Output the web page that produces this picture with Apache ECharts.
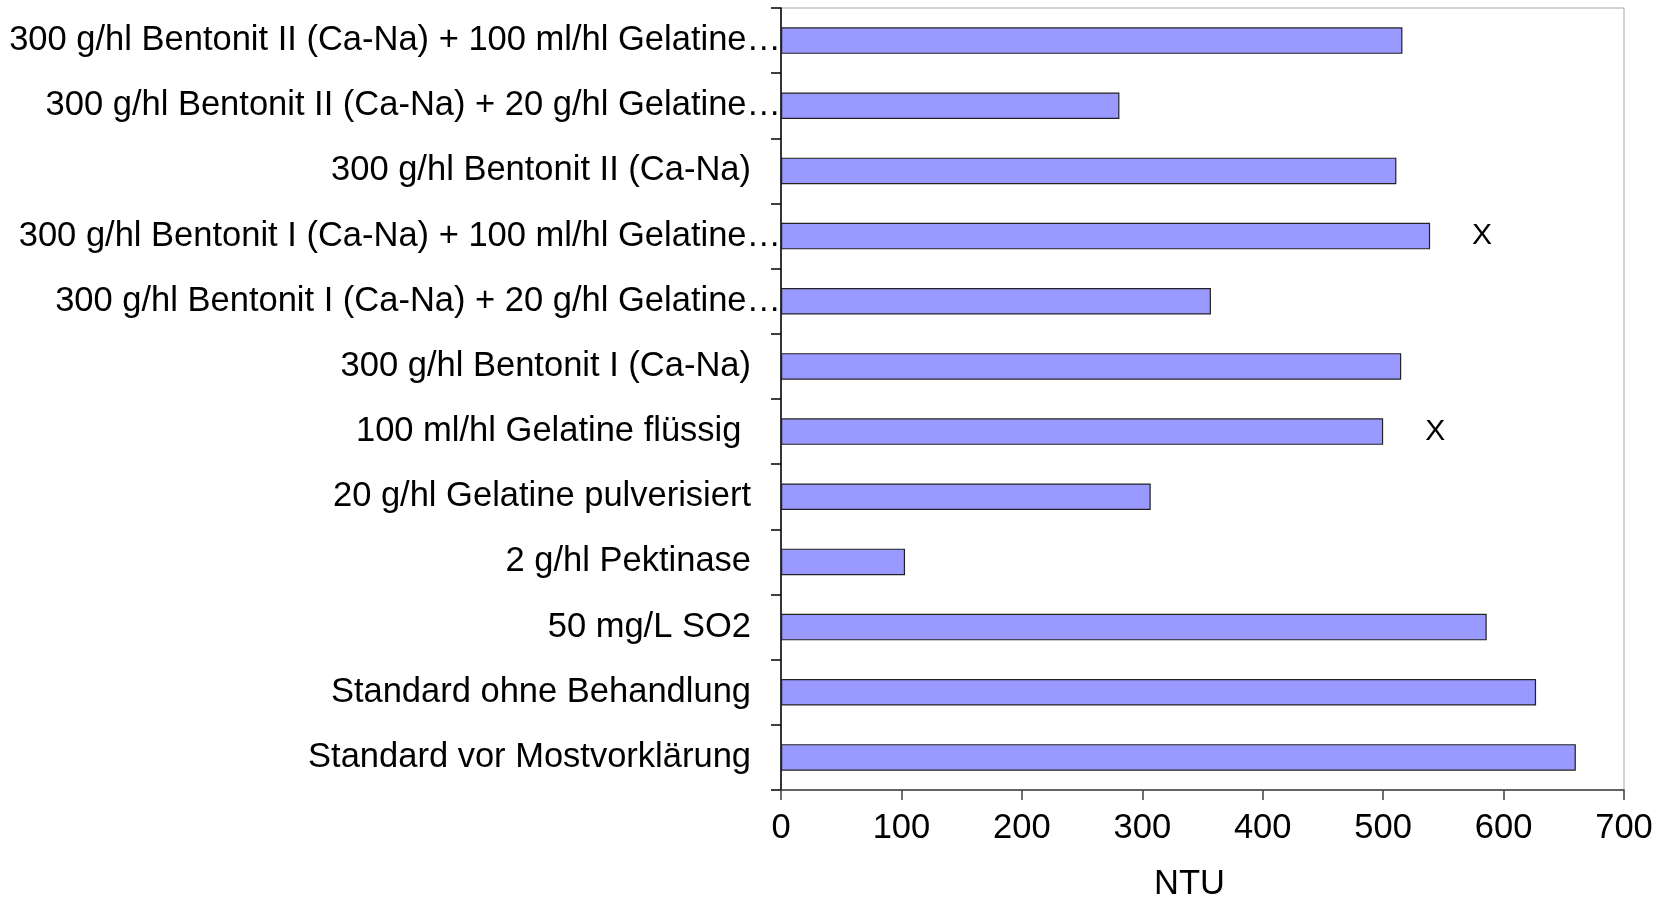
<!DOCTYPE html>
<html>
<head>
<meta charset="utf-8">
<title>NTU</title>
<script src="https://cdn.jsdelivr.net/npm/echarts@6/dist/echarts.min.js"></script>
<style>
  html, body { margin: 0; padding: 0; background: #ffffff; overflow: hidden; width: 100%; height: 100%; }
  #chart { width: 100%; height: 100%; }
</style>
</head>
<body>
<div id="chart"></div>
<script>
// Treatments, listed from top to bottom
const categories = [
  '300 g/hl Bentonit II (Ca-Na) + 100 ml/hl Gelatine…',
  '300 g/hl Bentonit II (Ca-Na) + 20 g/hl Gelatine…',
  '300 g/hl Bentonit II (Ca-Na)',
  '300 g/hl Bentonit I (Ca-Na) + 100 ml/hl Gelatine…',
  '300 g/hl Bentonit I (Ca-Na) + 20 g/hl Gelatine…',
  '300 g/hl Bentonit I (Ca-Na)',
  '100 ml/hl Gelatine flüssig ',
  '20 g/hl Gelatine pulverisiert',
  '2 g/hl Pektinase',
  '50 mg/L SO2',
  'Standard ohne Behandlung',
  'Standard vor Mostvorklärung'
];

// Turbidity in NTU
const ntuValues = [516, 281, 511, 539, 357, 515, 500, 307, 103, 586, 627, 660];

// Treatments flagged with an "X" next to their bar
const flagged = [
  '300 g/hl Bentonit I (Ca-Na) + 100 ml/hl Gelatine…',
  '100 ml/hl Gelatine flüssig '
];

const xTicks = { min: 0, max: 700, interval: 100 };
const axisName = 'NTU';

const FONT = '"Liberation Sans", Arial, Helvetica, sans-serif';
const FS = 34.5;

// Layout is designed for a 1667 x 907 canvas and scaled to the actual viewport
const el = document.getElementById('chart');
const W = el.clientWidth || 1667;
const H = el.clientHeight || 907;
const sx = W / 1667;
const sy = H / 907;

const barData = ntuValues.map((v, i) => {
  const item = { value: v };
  if (flagged.includes(categories[i])) {
    item.label = {
      show: true,
      position: 'right',
      distance: 42 * sx,
      formatter: 'X',
      fontFamily: FONT,
      fontSize: 30,
      color: '#000'
    };
  }
  return item;
});

const chart = echarts.init(el, null, { renderer: 'canvas' });

chart.setOption({
  animation: false,
  backgroundColor: '#ffffff',
  grid: {
    left: 781 * sx,
    width: 843 * sx,
    top: 8 * sy,
    height: 790 * sy,
    containLabel: false,
    show: true,
    borderColor: '#a6a6a6',
    borderWidth: 1,
    backgroundColor: 'transparent'
  },
  xAxis: {
    type: 'value',
    min: xTicks.min,
    max: xTicks.max,
    interval: xTicks.interval,
    name: axisName,
    nameLocation: 'middle',
    nameGap: 77 * sy,
    nameTextStyle: {
      fontFamily: FONT,
      fontSize: FS,
      color: '#000',
      padding: [0, 26, 0, 0]
    },
    axisLine: { show: true, lineStyle: { color: '#404040', width: 1.5 } },
    axisTick: { show: true, inside: false, length: 10, lineStyle: { color: '#404040', width: 1.5 } },
    axisLabel: {
      margin: 21 * sy,
      fontFamily: FONT,
      fontSize: FS,
      color: '#000'
    },
    splitLine: { show: false }
  },
  yAxis: {
    type: 'category',
    inverse: true,
    data: categories,
    axisLine: { show: true, lineStyle: { color: '#000', width: 1.5 } },
    axisTick: { show: true, inside: false, length: 10, lineStyle: { color: '#000', width: 1.5 } },
    axisLabel: {
      margin: 0,
      interval: 0,
      fontFamily: FONT,
      fontSize: FS,
      color: '#000',
      formatter: function (v) {
        return v.endsWith('…') ? '{t|' + v + '}' : '{n|' + v + '}';
      },
      rich: {
        n: { fontFamily: FONT, fontSize: FS, color: '#000', padding: [0, 30, 0, 0] },
        t: { fontFamily: FONT, fontSize: FS, color: '#000' }
      }
    },
    splitLine: { show: false }
  },
  series: [{
    type: 'bar',
    data: barData,
    barWidth: 26.5 * sy,
    itemStyle: {
      color: '#9999ff',
      borderColor: '#222222',
      borderWidth: 1.2
    }
  }]
});
</script>
</body>
</html>
